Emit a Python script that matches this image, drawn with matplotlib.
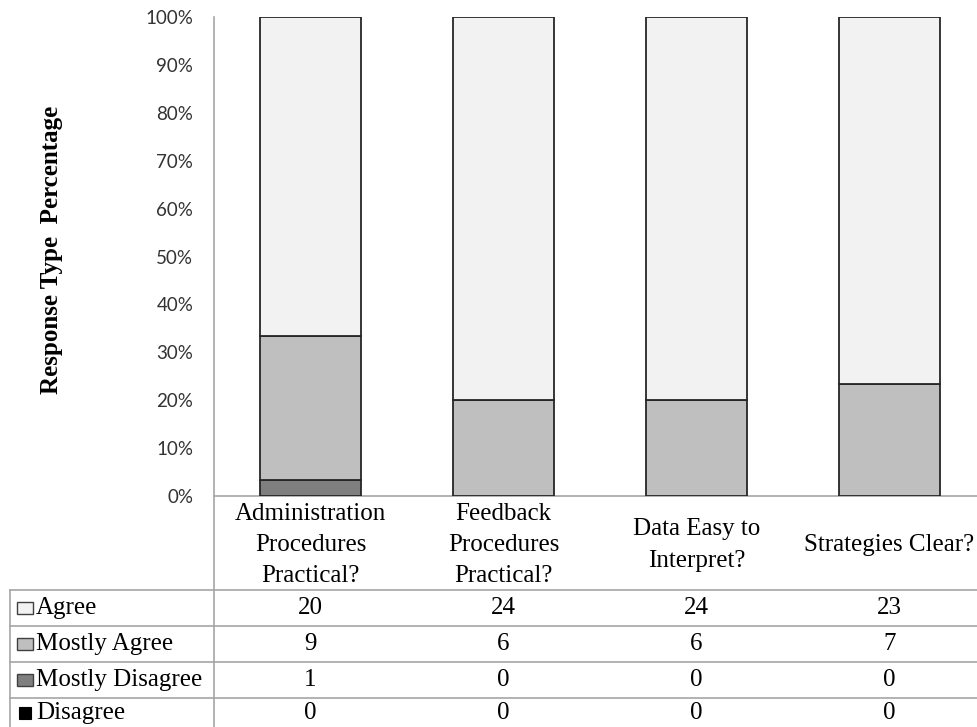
import matplotlib
matplotlib.use('Agg')
import matplotlib.pyplot as plt
from matplotlib.patches import Rectangle
from matplotlib.lines import Line2D
from matplotlib.transforms import blended_transform_factory
from matplotlib.ticker import FuncFormatter
import numpy as np

# ---- data ----
categories = ["Administration\nProcedures\nPractical?",
              "Feedback\nProcedures\nPractical?",
              "Data Easy to\nInterpret?",
              "Strategies Clear?"]
series_names = ["Agree", "Mostly Agree", "Mostly Disagree", "Disagree"]
agree = [20, 24, 24, 23]
mostly_agree = [9, 6, 6, 7]
mostly_disagree = [1, 0, 0, 0]
disagree = [0, 0, 0, 0]
series_colors = ["#f2f2f2", "#bfbfbf", "#7f7f7f", "#000000"]
ytick_values = [0, 10, 20, 30, 40, 50, 60, 70, 80, 90, 100]
y_label = "Response Type  Percentage"

# ---- layout helpers (pixel -> figure fraction) ----
W, H = 977, 727
fig = plt.figure(figsize=(W / 100, H / 100), dpi=100)


def fx(px):
    return px / W


def fy(py):
    return 1 - py / H


serif = "Liberation Serif"
ax = fig.add_axes([fx(214), fy(496), fx(986) - fx(214), fy(17) - fy(496)])

series = [agree, mostly_agree, mostly_disagree, disagree]
counts = np.array(series, dtype=float)
totals = counts.sum(axis=0)
pct = counts / totals * 100

x = np.arange(len(categories))
bottom = np.zeros(len(categories))
# stack from bottom: Disagree, Mostly Disagree, Mostly Agree, Agree
for idx in [3, 2, 1, 0]:
    ax.bar(x, pct[idx], width=0.52, bottom=bottom, color=series_colors[idx],
           edgecolor="#262626", linewidth=1.3, zorder=3)
    bottom = bottom + pct[idx]

ax.set_xlim(-0.5, len(categories) - 0.5)
ax.set_ylim(0, 100)
ax.set_yticks(ytick_values)
ax.yaxis.set_major_formatter(FuncFormatter(lambda v, p: f"{int(v)}%"))
ax.set_xticks([])
ax.tick_params(axis="y", length=0, pad=15, labelsize=13.5, labelcolor="#333333")
for lab in ax.get_yticklabels():
    lab.set_fontfamily("Lato")
for s in ["top", "right"]:
    ax.spines[s].set_visible(False)
for s in ["left", "bottom"]:
    ax.spines[s].set_color("#a6a6a6")
    ax.spines[s].set_linewidth(1.2)

# y-axis title
fig.text(fx(52), fy(250), y_label, rotation=90, ha="center", va="center",
         fontfamily=serif, fontweight="bold", fontsize=18, color="black")

# category labels under the axis
tr = blended_transform_factory(ax.transData, fig.transFigure)
for i, c in enumerate(categories):
    ax.text(i, fy(545), c, transform=tr, ha="center", va="center",
            fontfamily=serif, fontsize=18, linespacing=1.55, clip_on=False)

# ---- data table ----
line_color = "#a6a6a6"
row_lines = [590, 626, 662, 698]
row_centers = [608, 644, 680, 713]
for yl in row_lines:
    fig.add_artist(Line2D([fx(10), 1], [fy(yl), fy(yl)], color=line_color, lw=1.2))
fig.add_artist(Line2D([fx(214), fx(214)], [fy(496), 0], color=line_color, lw=1.2))
fig.add_artist(Line2D([fx(10), fx(10)], [fy(590), 0], color=line_color, lw=1.2))

for r, name in enumerate(series_names):
    yc = row_centers[r]
    if name == "Disagree":
        fig.add_artist(Rectangle((fx(19), fy(yc + 6)), fx(12), fy(0) - fy(12),
                                 facecolor=series_colors[r], edgecolor="black", lw=0.8))
    else:
        fig.add_artist(Rectangle((fx(17), fy(yc + 6)), fx(16), fy(0) - fy(12),
                                 facecolor=series_colors[r], edgecolor="#404040", lw=1.0))
    fig.text(fx(36), fy(yc), name, ha="left", va="center",
             fontfamily=serif, fontsize=18, color="black")
    for i in range(len(categories)):
        ax.text(i, fy(yc), str(series[r][i]), transform=tr, ha="center", va="center",
                fontfamily=serif, fontsize=18, color="black", clip_on=False)

fig.savefig("out.png", dpi=100)
